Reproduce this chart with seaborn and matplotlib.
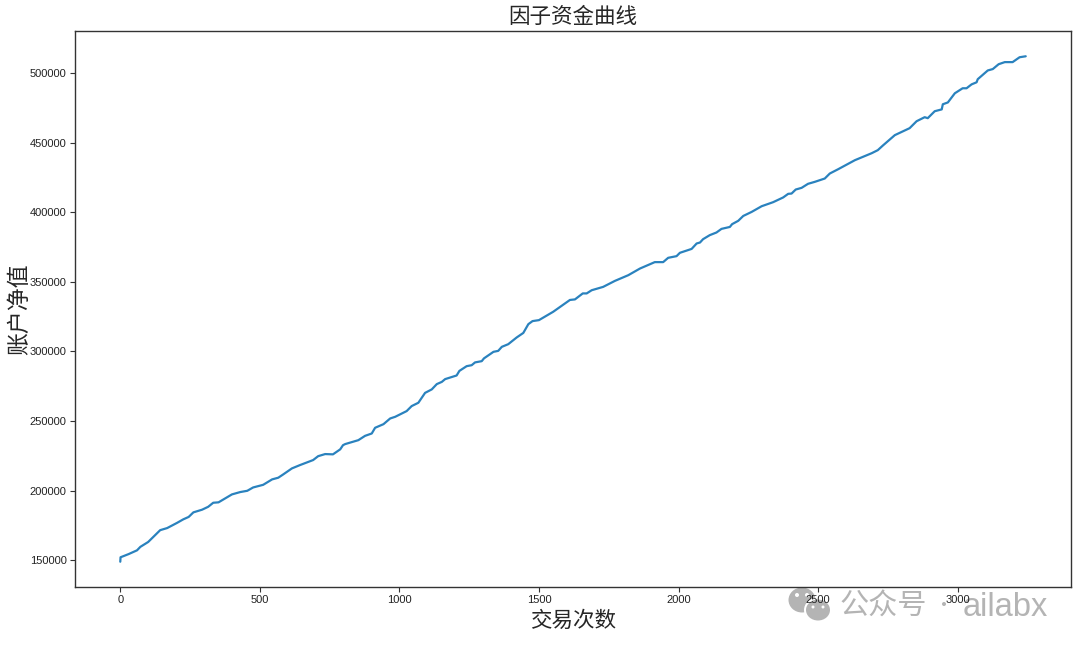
import pandas as pd
import matplotlib.pyplot as plt
import seaborn as sns
from matplotlib.patches import Ellipse

# values
trade_counts = [0, 1, 30, 60, 72, 100, 125, 143, 168, 204, 226, 245, 262, 293, 315, 333, 352, 400, 430, 455,
                476, 512, 544, 566, 584, 615, 644, 691, 709, 734, 762, 788, 798, 806, 853, 877, 901, 913, 943, 967,
                985, 1026, 1044, 1068, 1092, 1116, 1134, 1152, 1164, 1205, 1215, 1241, 1259, 1271, 1295, 1303, 1337, 1354, 1367, 1390,
                1420, 1444, 1462, 1477, 1500, 1551, 1611, 1629, 1657, 1671, 1689, 1730, 1772, 1820, 1862, 1915, 1945, 1963, 1993, 2005,
                2047, 2065, 2077, 2088, 2112, 2136, 2154, 2184, 2192, 2214, 2232, 2262, 2298, 2339, 2375, 2393, 2405, 2420, 2441, 2464,
                2488, 2524, 2542, 2572, 2632, 2692, 2714, 2732, 2775, 2828, 2853, 2882, 2893, 2918, 2943, 2947, 2965, 2990, 3018, 3032,
                3050, 3068, 3072, 3108, 3126, 3147, 3169, 3197, 3222, 3244]
net_values = [148800, 152000, 154300, 157000, 159500, 163000, 168000, 171500, 173000, 176800, 179300, 181000, 184300, 186200, 188300, 191200, 191500, 197200, 198900, 199800,
              202200, 204100, 208000, 209200, 211600, 215900, 218300, 221900, 224700, 226200, 226000, 229600, 232600, 233400, 236200, 239300, 241000, 245100, 247700, 251800,
              253000, 257100, 260700, 263100, 270200, 272700, 276500, 278100, 280100, 282700, 286000, 289400, 290100, 292100, 293000, 295000, 299700, 300400, 303300, 305200,
              310000, 313300, 319600, 321800, 322500, 328500, 337000, 337400, 341700, 341700, 344000, 346400, 350700, 354800, 359600, 364200, 364200, 367300, 368500, 370900,
              373700, 377600, 378300, 380700, 383600, 385500, 388100, 389500, 391500, 393900, 397400, 400300, 404400, 407300, 410700, 413300, 413500, 416400, 417600, 420500,
              421900, 424300, 427900, 431000, 437500, 442500, 444700, 448000, 455500, 460500, 465500, 468400, 467700, 472700, 474000, 477700, 479000, 485600, 489200, 489200,
              492000, 493500, 495700, 502000, 503000, 506500, 508000, 508000, 511500, 512200]

title_text = '因子资金曲线'
x_label = '交易次数'
y_label = '账户净值'

sns.set_style('ticks')
plt.rcParams['font.family'] = ['Noto Sans CJK SC', 'DejaVu Sans']

df = pd.DataFrame({'trades': trade_counts, 'value': net_values})

fig, ax = plt.subplots(figsize=(10.8, 6.48), dpi=100)
fig.subplots_adjust(left=75/1080, right=1071/1080, top=1-31/648, bottom=1-587/648)

sns.lineplot(data=df, x='trades', y='value', color='#2a82be', linewidth=1.6, ax=ax)

ax.set_title(title_text, fontsize=15.5, pad=6)
ax.set_xlabel(x_label, fontsize=15.5, labelpad=3)
ax.set_ylabel(y_label, fontsize=16.5, labelpad=-1)
ax.tick_params(labelsize=8, length=3.5, width=0.8, pad=2.5, color='#333333', labelcolor='#222222')
for label in ax.get_xticklabels() + ax.get_yticklabels():
    label.set_fontfamily('Liberation Sans')
for spine in ax.spines.values():
    spine.set_visible(True)
    spine.set_color('#333333')
    spine.set_linewidth(1.0)


def px(x, y):
    return x / 1080, 1 - y / 648


def blob(x, y, w, h, color):
    fig.add_artist(Ellipse(px(x, y), w / 1080, h / 648, color=color, lw=0, transform=fig.transFigure, zorder=-1))


# watermark under the tick labels
mark = '#b4b4b4'
fig.text(*px(840, 607), '公众号', fontsize=21, color=mark, va='center', zorder=-1)
fig.text(*px(963, 608), 'ailabx', fontsize=23.5, color=mark, va='center', family='Liberation Sans', zorder=-1)
blob(944, 604, 4, 4, mark)
blob(802, 600, 27, 25, mark)
blob(818, 610, 28, 25, 'white')
blob(818, 610, 24, 21, mark)
blob(797, 595, 4, 4, 'white')
blob(807, 595, 4, 4, 'white')
blob(813, 607, 3, 3, 'white')
blob(823, 607, 3, 3, 'white')

plt.savefig('out.png', dpi=100)
plt.close()
